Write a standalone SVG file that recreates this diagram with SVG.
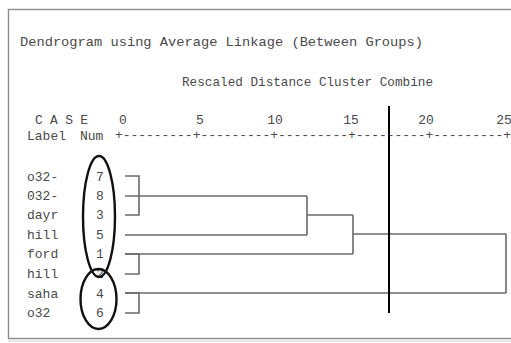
<svg xmlns="http://www.w3.org/2000/svg" width="511" height="343" viewBox="0 0 511 343">
  <style>
    .t { font-family: "Liberation Mono", "Courier New", monospace; font-size: 13px; fill: #4a4a4a; }
    .num { text-anchor: middle; }
    .branch { fill: none; stroke: #6a6a6a; stroke-width: 1.6; }
    .ring { fill: none; stroke: #111; stroke-width: 2.4; }
  </style>
  <rect width="511" height="343" fill="#ffffff"/>
  <!-- frame -->
  <rect x="8.5" y="9.5" width="520" height="329" fill="none" stroke="#8c8c8c" stroke-width="1.4"/>
  <line x1="8" y1="341" x2="511" y2="341" stroke="#cfcfcf" stroke-width="1"/>

  <!-- headings -->
  <g id="title">
    <text class="t" x="20" y="46" textLength="403" lengthAdjust="spacingAndGlyphs">Dendrogram using Average Linkage (Between Groups)</text>
    <text class="t" x="182" y="86" textLength="251" lengthAdjust="spacingAndGlyphs">Rescaled Distance Cluster Combine</text>
  </g>

  <!-- axis -->
  <g id="axis">
    <text class="t" x="35" y="124" textLength="53" lengthAdjust="spacing">C A S E</text>
    <text class="t" x="27" y="140">Label</text>
    <text class="t" x="80" y="140">Num</text>
    <text class="t num" x="123" y="124">0</text>
    <text class="t num" x="200" y="124">5</text>
    <text class="t num" x="275" y="124">10</text>
    <text class="t num" x="351" y="124">15</text>
    <text class="t num" x="426" y="124">20</text>
    <text class="t num" x="504" y="124">25</text>
    <text class="t" x="115" y="139" textLength="396" lengthAdjust="spacing">+---------+---------+---------+---------+---------+</text>
  </g>

  <!-- cases -->
  <g id="case-7"><text class="t" x="27" y="181">o32-</text><text class="t num" x="100" y="181">7</text></g>
  <g id="case-8"><text class="t" x="27" y="200">032-</text><text class="t num" x="100" y="200">8</text></g>
  <g id="case-3"><text class="t" x="27" y="219">dayr</text><text class="t num" x="100" y="219">3</text></g>
  <g id="case-5"><text class="t" x="27" y="239">hill</text><text class="t num" x="100" y="239">5</text></g>
  <g id="case-1"><text class="t" x="27" y="258">ford</text><text class="t num" x="100" y="258">1</text></g>
  <g id="case-2"><text class="t" x="27" y="278">hill</text><text class="t num" x="100" y="278">2</text></g>
  <g id="case-4"><text class="t" x="27" y="298">saha</text><text class="t num" x="100" y="298">4</text></g>
  <g id="case-6"><text class="t" x="27" y="317">o32</text><text class="t num" x="100" y="317">6</text></g>

  <!-- group rings -->
  <g id="rings">
    <ellipse class="ring" cx="99" cy="216.5" rx="16" ry="60.5"/>
    <ellipse class="ring" cx="98.5" cy="299" rx="18" ry="30"/>
  </g>

  <!-- tree -->
  <g id="connectors">
    <path class="branch" d="M125,176 H139 V215 H125"/>
    <path class="branch" d="M125,196 H307"/>
    <path class="branch" d="M125,235 H307"/>
    <path class="branch" d="M307,196 V235"/>
    <path class="branch" d="M307,215 H353"/>
    <path class="branch" d="M125,254 H139 V274 H125"/>
    <path class="branch" d="M125,254 H353"/>
    <path class="branch" d="M353,215 V254"/>
    <path class="branch" d="M353,234 H506"/>
    <path class="branch" d="M125,293 H139 V313 H125"/>
    <path class="branch" d="M125,293 H506"/>
    <path class="branch" d="M506,234 V293"/>
  </g>

  <!-- cut line -->
  <line id="cut" x1="389" y1="106" x2="389" y2="313" stroke="#000" stroke-width="2"/>
</svg>
